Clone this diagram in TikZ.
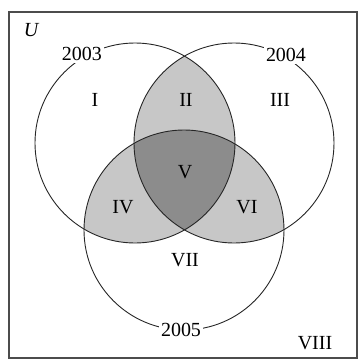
\documentclass[tikz,border=0pt]{standalone}
\usepackage{fontspec}
\setmainfont{Liberation Serif}
\begin{document}
\begin{tikzpicture}[x=1pt,y=-1pt,
  lbl/.style={font=\fontsize{20}{20}\selectfont, inner sep=1pt},
  yearlbl/.style={font=\fontsize{20}{20}\selectfont, fill=white, inner sep=2pt},
  ring/.style={draw=black!85, line width=0.9pt},
  lightfill/.style={fill=black!22},
  darkfill/.style={fill=black!45}]
\useasboundingbox (0,0) rectangle (359,360);
\coordinate (ca) at (135,143);
\coordinate (cb) at (234,143);
\coordinate (cc) at (184,230);
% pairwise intersections
\begin{scope}
  \clip (ca) circle (100pt);
  \fill[lightfill] (cb) circle (100pt);
  \fill[lightfill] (cc) circle (100pt);
\end{scope}
\begin{scope}
  \clip (cb) circle (100pt);
  \fill[lightfill] (cc) circle (100pt);
\end{scope}
% triple intersection
\begin{scope}
  \clip (ca) circle (100pt);
  \clip (cb) circle (100pt);
  \fill[darkfill] (cc) circle (100pt);
\end{scope}
\draw[ring] (ca) circle (100pt);
\draw[ring] (cb) circle (100pt);
\draw[ring] (cc) circle (100pt);
% universe frame
\draw[draw=black!70, line width=1.2pt] (9,12) rectangle (357,358);
\node[lbl, font=\fontsize{20}{20}\selectfont\itshape] (u) at (31,30) {U};
\node[yearlbl] (y3) at (82,54) {2003};
\node[yearlbl] (y4) at (286,55) {2004};
\node[yearlbl] (y5) at (181,330) {2005};
\node[lbl] (r1) at (95,100) {I};
\node[lbl] (r2) at (186,100) {II};
\node[lbl] (r3) at (280,100) {III};
\node[lbl] (r4) at (123,207) {IV};
\node[lbl] (r5) at (185,172) {V};
\node[lbl] (r6) at (247,207) {VI};
\node[lbl] (r7) at (185,260) {VII};
\node[lbl] (r8) at (315,343) {VIII};
\end{tikzpicture}
\end{document}
